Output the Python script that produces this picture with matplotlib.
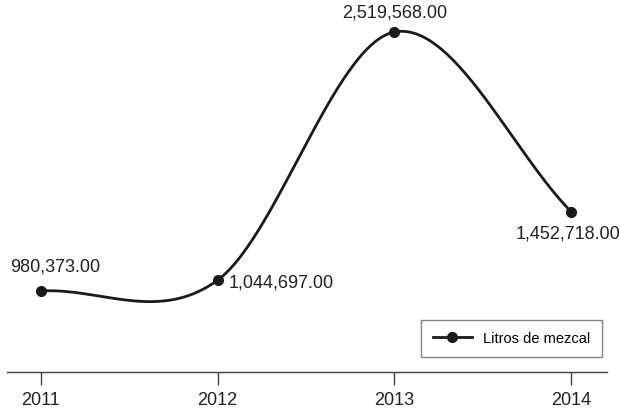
import numpy as np
import matplotlib.pyplot as plt

years = [2011, 2012, 2013, 2014]
litros = [980373.00, 1044697.00, 2519568.00, 1452718.00]
# label offsets in points (dx, dy) and alignment
label_off = [(10, 12), (8, -1), (0, 8), (-2, -9)]
label_ha = ['center', 'left', 'center', 'center']
label_va = ['bottom', 'center', 'bottom', 'top']

plt.rcParams['font.family'] = ['Liberation Sans', 'DejaVu Sans']


def smooth_curve(x, y, n=60):
    # Catmull-Rom style hermite curve through the points
    x = np.asarray(x, dtype=float)
    y = np.asarray(y, dtype=float)
    m = np.zeros_like(y)
    m[1:-1] = (y[2:] - y[:-2]) / 2
    m[0] = y[1] - y[0]
    m[-1] = y[-1] - y[-2]
    xs, ys = [], []
    for i in range(len(x) - 1):
        t = np.linspace(0, 1, n)
        h00 = 2 * t**3 - 3 * t**2 + 1
        h10 = t**3 - 2 * t**2 + t
        h01 = -2 * t**3 + 3 * t**2
        h11 = t**3 - t**2
        xs.append(x[i] + t * (x[i + 1] - x[i]))
        ys.append(h00 * y[i] + h10 * m[i] + h01 * y[i + 1] + h11 * m[i + 1])
    return np.concatenate(xs), np.concatenate(ys)


fig = plt.figure(figsize=(6.2, 4.1), dpi=100)
ax = fig.add_axes([7 / 620, 37 / 410, 600 / 620, 373 / 410])

sx, sy = smooth_curve(years, litros)
ax.plot(sx, sy, color='#1a1a1a', lw=2.0, solid_capstyle='round')
ax.plot(years, litros, 'o', color='#1a1a1a', ms=7)
ax.plot([], [], '-o', color='#1a1a1a', lw=2.0, ms=7, label='Litros de mezcal')

for x, v, off, ha, va in zip(years, litros, label_off, label_ha, label_va):
    ax.annotate(f'{v:,.2f}', (x, v), xytext=off, textcoords='offset points',
                ha=ha, va=va, fontsize=13, color='#222222')

ax.set_xlim(2010.808, 2014.204)
ax.set_ylim(498990, 2715687)
ax.set_xticks(years)
ax.set_xticklabels([str(y) for y in years], fontsize=13, color='#222222')
ax.set_yticks([])
for s in ['left', 'right', 'top']:
    ax.spines[s].set_visible(False)
ax.spines['bottom'].set_color('#444444')
ax.spines['bottom'].set_linewidth(1.0)
ax.tick_params(axis='x', direction='out', length=9, width=1.0, color='#444444', pad=5)

leg = ax.legend(loc='lower right', bbox_to_anchor=(602 / 620, 52 / 410), bbox_transform=fig.transFigure,
                borderaxespad=0, fontsize=10.5, frameon=True, fancybox=False,
                handlelength=2.7, handletextpad=0.75, borderpad=0.8)
leg.get_frame().set_edgecolor('#666666')
leg.get_frame().set_linewidth(1.0)

fig.savefig('out.png', dpi=100)
